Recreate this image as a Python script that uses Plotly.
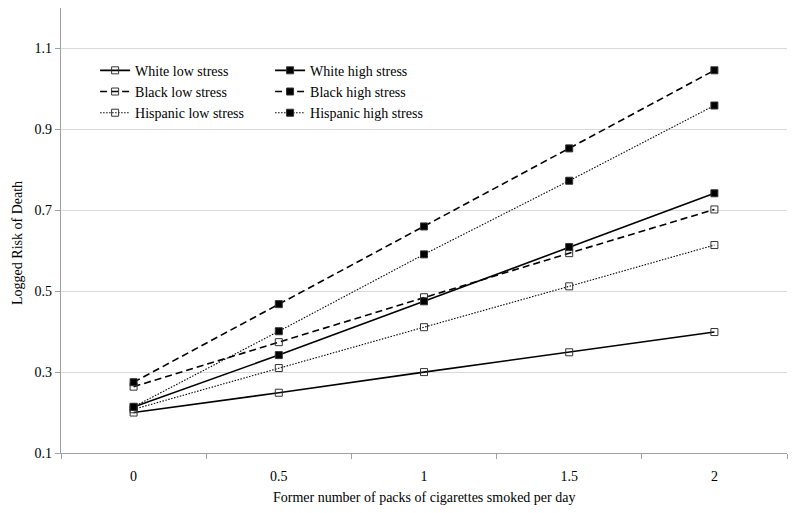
import plotly.graph_objects as go

packs = ["0", "0.5", "1", "1.5", "2"]

white_low = [0.200, 0.249, 0.300, 0.349, 0.399]
white_high = [0.214, 0.342, 0.475, 0.609, 0.742]
black_low = [0.264, 0.374, 0.485, 0.594, 0.702]
black_high = [0.275, 0.468, 0.660, 0.853, 1.046]
hisp_low = [0.208, 0.310, 0.411, 0.512, 0.614]
hisp_high = [0.214, 0.401, 0.591, 0.773, 0.959]

SERIF = "Liberation Serif, Times New Roman, serif"

series = [
    ("White low stress", white_low, "solid", 1.6, False, "legend"),
    ("Black low stress", black_low, "7px,4px", 1.6, False, "legend"),
    ("Hispanic low stress", hisp_low, "1.5px,1.5px", 1.1, False, "legend"),
    ("White high stress", white_high, "solid", 1.6, True, "legend2"),
    ("Black high stress", black_high, "7px,4px", 1.6, True, "legend2"),
    ("Hispanic high stress", hisp_high, "1.5px,1.5px", 1.1, True, "legend2"),
]

fig = go.Figure()
for name, vals, dash, lw, filled, leg in series:
    fig.add_trace(go.Scatter(
        x=packs, y=vals, name=name, mode="lines+markers",
        line=dict(color="black", width=lw, dash=dash),
        marker=dict(symbol="square" if filled else "square-open",
                    size=7,
                    color="black" if filled else "#333333",
                    line=dict(width=1, color="#333333")),
        legend=leg,
    ))

legend_style = dict(font=dict(family=SERIF, size=14, color="black"),
                    bgcolor="rgba(0,0,0,0)", yanchor="top", xanchor="left",
                    tracegroupgap=0, itemwidth=30)

# page body has an 8px margin, so the figure is sized to fit the window
fig.update_layout(
    width=792, height=505,
    margin=dict(l=53, r=13, t=0, b=60),
    paper_bgcolor="white", plot_bgcolor="white",
    font=dict(family=SERIF, size=14, color="black"),
    legend=dict(x=0.047, y=0.895, **legend_style),
    legend2=dict(x=0.288, y=0.895, **legend_style),
)

fig.update_xaxes(
    type="category", range=[-0.5, 4.5], automargin=False,
    tickson="boundaries", ticks="outside", ticklen=5, tickcolor="#a0a0a0",
    showline=True, linecolor="#a0a0a0", linewidth=1.3,
    showgrid=False, zeroline=False,
    ticklabelstandoff=10,
    tickfont=dict(family=SERIF, size=14, color="black"),
)
fig.update_yaxes(
    range=[0.1, 1.2], tick0=0.1, dtick=0.2, automargin=False,
    ticks="outside", ticklen=5, tickcolor="#a0a0a0",
    showline=True, linecolor="#a0a0a0", linewidth=1.3,
    showgrid=True, gridcolor="#d9d9d9", gridwidth=1,
    zeroline=False,
    tickformat=".1f",
    tickfont=dict(family=SERIF, size=14, color="black"),
)

# axis titles placed like the original Excel chart
fig.add_annotation(text="Former number of packs of cigarettes smoked per day",
                   xref="paper", yref="paper", x=0.5, y=0, xanchor="center",
                   yanchor="top", yshift=-35, showarrow=False,
                   font=dict(family=SERIF, size=14, color="black"))
fig.add_annotation(text="Logged Risk of Death", textangle=-90,
                   xref="paper", yref="paper", x=0, y=0.472, xanchor="center",
                   yanchor="middle", xshift=-43, showarrow=False,
                   font=dict(family=SERIF, size=14, color="black"))

fig.write_html("out.html")
